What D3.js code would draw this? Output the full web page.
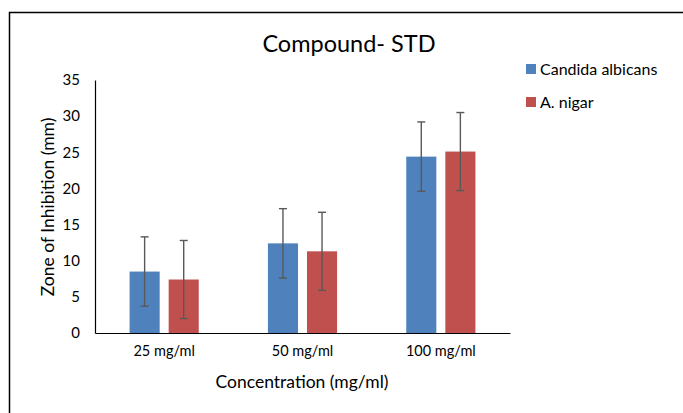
<!DOCTYPE html>
<html>
<head>
<meta charset="utf-8">
<script src="https://cdn.jsdelivr.net/npm/d3@7"></script>
<style>
  body { margin: 0; background: #fff; }
  text { font-family: Lato, "Open Sans", sans-serif; fill: #000; }
</style>
</head>
<body>
<div id="chart"></div>
<script>
// data
var categories = ["25 mg/ml", "50 mg/ml", "100 mg/ml"];
var seriesNames = ["Candida albicans", "A. nigar"];
var candida = [8.5, 12.4, 24.4];
var nigar = [7.4, 11.3, 25.1];
var candidaErr = [4.8, 4.8, 4.8];
var nigarErr = [5.4, 5.4, 5.4];
var yTicks = [0, 5, 10, 15, 20, 25, 30, 35];
var colors = ["#4F81BD", "#C0504D"];

var W = 683, H = 413;
var svg = d3.select("#chart").append("svg")
    .attr("width", W)
    .attr("height", H);

// outer chart frame (runs off right and bottom edges)
svg.append("rect")
    .attr("x", 9.5).attr("y", 12.5)
    .attr("width", 700).attr("height", 420)
    .attr("fill", "none")
    .attr("stroke", "#000")
    .attr("stroke-width", 1.5);

var x0 = d3.scaleBand().domain(categories).range([95, 510]).paddingInner(0.5).paddingOuter(0.25);
var x1 = d3.scaleBand().domain(seriesNames).range([0, x0.bandwidth()]).paddingInner(0.23);
var y = d3.scaleLinear().domain([0, 35]).range([333, 80]);

var rows = categories.map(function (c, i) {
    return {
        cat: c,
        vals: [
            { s: seriesNames[0], v: candida[i], e: candidaErr[i], c: colors[0] },
            { s: seriesNames[1], v: nigar[i], e: nigarErr[i], c: colors[1] }
        ]
    };
});

// y axis
var yAxis = svg.append("g")
    .attr("transform", "translate(95,0)")
    .call(d3.axisLeft(y).tickValues(yTicks).tickSize(0).tickPadding(15));
yAxis.select(".domain").attr("stroke", "#000").attr("stroke-width", 1.2);
yAxis.selectAll("text").attr("font-size", 15).attr("font-family", "Lato, 'Open Sans', sans-serif");

var groups = svg.selectAll(".grp").data(rows).enter().append("g")
    .attr("transform", function (d) { return "translate(" + x0(d.cat) + ",0)"; });

groups.selectAll("rect").data(function (d) { return d.vals; }).enter().append("rect")
    .attr("x", function (d) { return x1(d.s); })
    .attr("y", function (d) { return y(d.v); })
    .attr("width", x1.bandwidth())
    .attr("height", function (d) { return y(0) - y(d.v); })
    .attr("fill", function (d) { return d.c; });

// error bars
var eb = groups.selectAll(".err").data(function (d) { return d.vals; }).enter().append("g")
    .attr("stroke", "#595959").attr("stroke-width", 1.4);
eb.append("line")
    .attr("x1", function (d) { return x1(d.s) + x1.bandwidth() / 2; })
    .attr("x2", function (d) { return x1(d.s) + x1.bandwidth() / 2; })
    .attr("y1", function (d) { return y(d.v + d.e); })
    .attr("y2", function (d) { return y(d.v - d.e); });
eb.append("line")
    .attr("x1", function (d) { return x1(d.s) + x1.bandwidth() / 2 - 4; })
    .attr("x2", function (d) { return x1(d.s) + x1.bandwidth() / 2 + 4; })
    .attr("y1", function (d) { return y(d.v + d.e); })
    .attr("y2", function (d) { return y(d.v + d.e); });
eb.append("line")
    .attr("x1", function (d) { return x1(d.s) + x1.bandwidth() / 2 - 4; })
    .attr("x2", function (d) { return x1(d.s) + x1.bandwidth() / 2 + 4; })
    .attr("y1", function (d) { return y(d.v - d.e); })
    .attr("y2", function (d) { return y(d.v - d.e); });

// x axis
var xAxis = svg.append("g")
    .attr("transform", "translate(0,333)")
    .call(d3.axisBottom(x0).tickSize(0).tickPadding(13).tickSizeOuter(0));
xAxis.select(".domain").attr("stroke", "#000").attr("stroke-width", 1.2);
xAxis.selectAll("text").attr("font-size", 14.5).attr("font-family", "Lato, 'Open Sans', sans-serif");

// titles
svg.append("text").attr("x", 349).attr("y", 52).attr("text-anchor", "middle")
    .attr("font-size", 23.5).text("Compound- STD");
svg.append("text").attr("x", 302).attr("y", 388).attr("text-anchor", "middle")
    .attr("font-size", 17.5).text("Concentration (mg/ml)");
svg.append("text").attr("transform", "translate(54,207) rotate(-90)").attr("text-anchor", "middle")
    .attr("font-size", 17.5).text("Zone of Inhibition (mm)");

// legend
var leg = svg.selectAll(".leg").data(seriesNames).enter().append("g")
    .attr("transform", function (d, i) { return "translate(526," + (64 + i * 33) + ")"; });
leg.append("rect").attr("width", 10).attr("height", 10)
    .attr("fill", function (d, i) { return colors[i]; });
leg.append("text").attr("x", 14).attr("y", 10.5).attr("font-size", 16)
    .text(function (d) { return d; });
</script>
</body>
</html>
